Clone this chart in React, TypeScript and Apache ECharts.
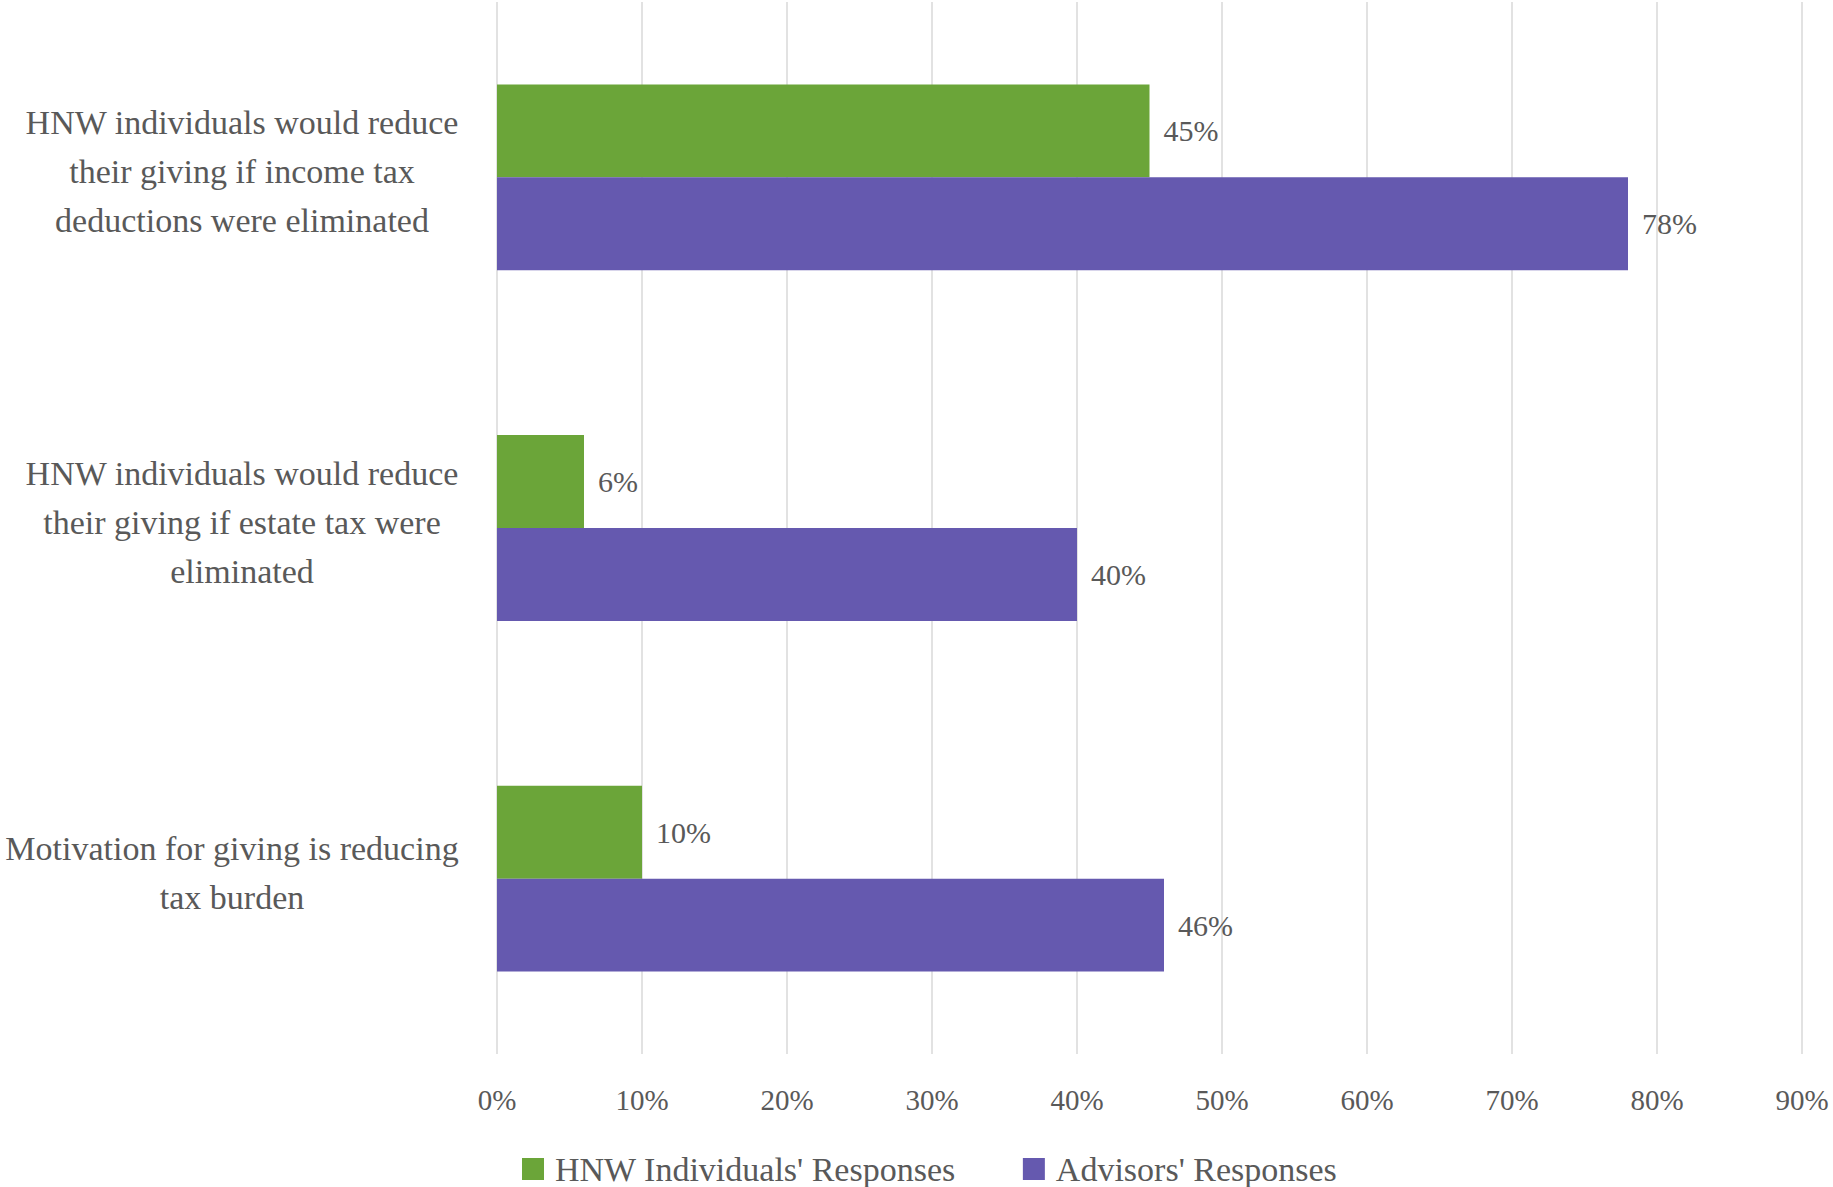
import React, { useEffect, useRef } from "react";
import * as echarts from "echarts";

const categories = [
  "HNW individuals would reduce\ntheir giving if income tax\ndeductions were eliminated",
  "HNW individuals would reduce\ntheir giving if estate tax were\neliminated",
  "Motivation for giving is reducing\ntax burden",
];
const seriesNames = ["HNW Individuals' Responses", "Advisors' Responses"];
const hnwValues = [45, 6, 10];
const advisorValues = [78, 40, 46];
const xTicks = { min: 0, max: 90, interval: 10 };

const FONT = "Liberation Serif";
const TEXT = "#595959";
const CAT_SIZE = 34;

function measure(text: string, size: number): number {
  const ctx = document.createElement("canvas").getContext("2d");
  if (!ctx) return text.length * size * 0.45;
  ctx.font = `${size}px "${FONT}"`;
  return ctx.measureText(text).width;
}

export default function App() {
  const ref = useRef<HTMLDivElement>(null);
  useEffect(() => {
    document.body.style.margin = "0";
    const chart = echarts.init(ref.current!, undefined, { renderer: "svg" });

    const rich: Record<string, any> = {};
    categories.forEach((c, i) => {
      const w = Math.max(...c.split("\n").map((l) => measure(l, CAT_SIZE)));
      rich["c" + i] = {
        width: Math.ceil(w) + 2,
        align: "center",
        fontFamily: FONT,
        fontSize: CAT_SIZE,
        color: TEXT,
        lineHeight: 49,
      };
    });

    chart.setOption({
      animation: false,
      backgroundColor: "#ffffff",
      textStyle: { fontFamily: FONT, color: TEXT },
      grid: {
        left: 497,
        right: 31,
        top: 2,
        bottom: 133,
        containLabel: false,
        outerBoundsMode: "none",
      },
      legend: {
        data: seriesNames,
        left: 522,
        top: 1152,
        padding: 0,
        icon: "rect",
        itemWidth: 22,
        itemHeight: 22,
        itemGap: 67,
        textStyle: { fontFamily: FONT, fontSize: 34, color: TEXT, padding: [0, 0, 0, 6] },
      },
      xAxis: {
        type: "value",
        min: xTicks.min,
        max: xTicks.max,
        interval: xTicks.interval,
        axisLine: { show: false },
        axisTick: { show: false },
        splitLine: { show: true, lineStyle: { color: "#d9d9d9", width: 1.5 } },
        axisLabel: {
          formatter: (v: number) => `${v}%`,
          fontFamily: FONT,
          fontSize: 29,
          color: TEXT,
          margin: 31,
        },
      },
      yAxis: {
        type: "category",
        inverse: true,
        data: categories,
        axisLine: { show: false },
        axisTick: { show: false },
        axisLabel: {
          fontFamily: FONT,
          fontSize: CAT_SIZE,
          color: TEXT,
          align: "right",
          margin: 37,
          lineHeight: 49,
          padding: [0, 0, 12, 0],
          formatter: (value: string, index: number) =>
            value
              .split("\n")
              .map((l) => `{c${index}|${l}}`)
              .join("\n"),
          rich,
        },
      },
      series: [
        {
          name: seriesNames[0],
          type: "bar",
          data: hnwValues,
          barGap: "0%",
          barCategoryGap: "47%",
          itemStyle: { color: "#6BA539" },
          label: {
            show: true,
            position: "right",
            distance: 14,
            formatter: "{c}%",
            fontFamily: FONT,
            fontSize: 30,
            color: TEXT,
          },
        },
        {
          name: seriesNames[1],
          type: "bar",
          data: advisorValues,
          barGap: "0%",
          barCategoryGap: "47%",
          itemStyle: { color: "#6559AF" },
          label: {
            show: true,
            position: "right",
            distance: 14,
            formatter: "{c}%",
            fontFamily: FONT,
            fontSize: 30,
            color: TEXT,
          },
        },
      ],
    });
    return () => chart.dispose();
  }, []);
  return (
    <div
      ref={ref}
      style={{ position: "fixed", left: 0, top: 0, width: 1833, height: 1187 }}
    />
  );
}
